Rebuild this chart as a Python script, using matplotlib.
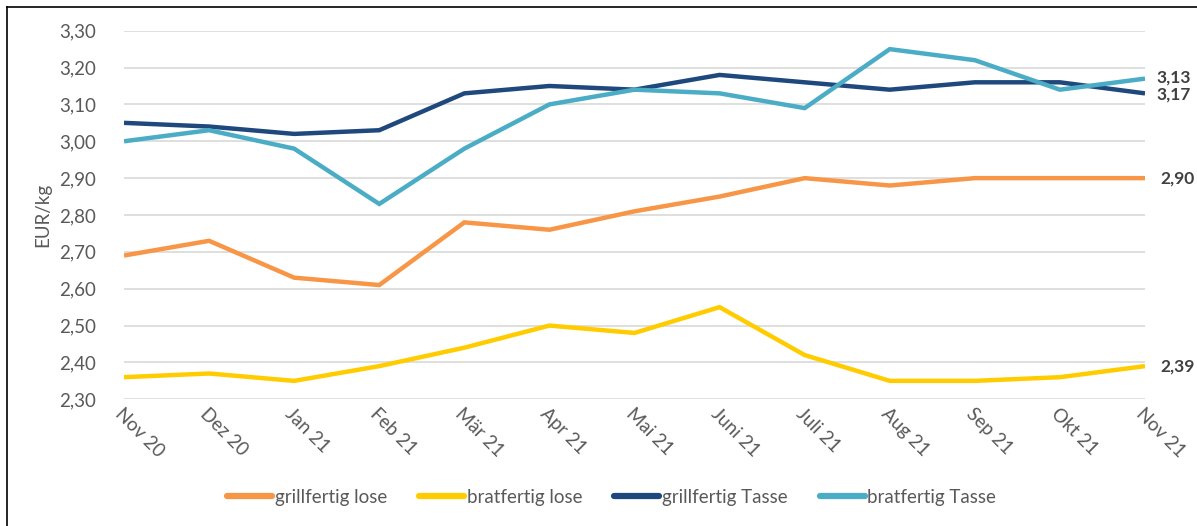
import matplotlib
matplotlib.use("Agg")
import matplotlib.pyplot as plt
from matplotlib.ticker import FuncFormatter, MultipleLocator
from matplotlib.lines import Line2D

plt.rcParams['font.family'] = ['Lato', 'DejaVu Sans']

# Data
months = ['Nov 20', 'Dez 20', 'Jan 21', 'Feb 21', 'Mär 21', 'Apr 21', 'Mai 21',
          'Juni 21', 'Juli 21', 'Aug 21', 'Sep 21', 'Okt 21', 'Nov 21']
grill_lose = [2.69, 2.73, 2.63, 2.61, 2.78, 2.76, 2.81, 2.85, 2.90, 2.88, 2.90, 2.90, 2.90]
brat_lose = [2.36, 2.37, 2.35, 2.39, 2.44, 2.50, 2.48, 2.55, 2.42, 2.35, 2.35, 2.36, 2.39]
grill_tasse = [3.05, 3.04, 3.02, 3.03, 3.13, 3.15, 3.14, 3.18, 3.16, 3.14, 3.16, 3.16, 3.13]
brat_tasse = [3.00, 3.03, 2.98, 2.83, 2.98, 3.10, 3.14, 3.13, 3.09, 3.25, 3.22, 3.14, 3.17]

names = ['grillfertig lose', 'bratfertig lose', 'grillfertig Tasse', 'bratfertig Tasse']
colors = ['#F79646', '#FFCC00', '#1F497D', '#4BACC6']
series = [grill_lose, brat_lose, grill_tasse, brat_tasse]

text_col = '#595959'
fs = 13.5

fig = plt.figure(figsize=(11.97, 5.26), dpi=100)
ax = fig.add_axes([124 / 1197, 1 - 399.3 / 526, (1145 - 124) / 1197, (399.3 - 30.7) / 526])

x = list(range(len(months)))
for vals, c in zip(series, colors):
    ax.plot(x, vals, color=c, lw=3.2, solid_capstyle='butt', solid_joinstyle='miter', zorder=3)

ax.set_xlim(0, len(months) - 1)
ax.set_ylim(2.30, 3.30)
ax.yaxis.set_major_locator(MultipleLocator(0.1))
ax.yaxis.set_major_formatter(FuncFormatter(lambda v, p: f'{v:.2f}'.replace('.', ',')))
ax.grid(axis='y', color='#D9D9D9', lw=1.2, zorder=0)
for s in ax.spines.values():
    s.set_visible(False)
ax.tick_params(axis='both', length=0, colors=text_col, labelsize=fs)
ax.tick_params(axis='y', pad=20)
ax.set_xticks(x)
ax.set_xticklabels(months, rotation=-45, ha='left', va='top', rotation_mode='anchor')
ax.tick_params(axis='x', pad=4)
ax.set_ylabel('EUR/kg', color=text_col, fontsize=fs, labelpad=6)

# end-of-line value labels (Excel placed the two top labels swapped)
last = len(months) - 1
lbl_kw = dict(fontsize=12.5, fontweight='bold', color='#404040', va='center', ha='left',
              textcoords='offset points')
ax.annotate(f'{grill_lose[-1]:.2f}'.replace('.', ','), (last, grill_lose[-1]), xytext=(11, 0), **lbl_kw)
ax.annotate(f'{brat_lose[-1]:.2f}'.replace('.', ','), (last, brat_lose[-1]), xytext=(11, 0), **lbl_kw)
ax.annotate(f'{grill_tasse[-1]:.2f}'.replace('.', ','), (last, brat_tasse[-1]), xytext=(8, 0.5), **lbl_kw)
ax.annotate(f'{brat_tasse[-1]:.2f}'.replace('.', ','), (last, grill_tasse[-1]), xytext=(8, -0.5), **lbl_kw)

handles = [Line2D([], [], color=c, lw=4.5, solid_capstyle='round') for c in colors]
leg = fig.legend(handles, names, loc='center', bbox_to_anchor=(0.511, 1 - 497 / 526), ncol=4,
                 frameon=False, fontsize=fs, handlelength=2.4, handletextpad=0.15,
                 columnspacing=1.7)
for t in leg.get_texts():
    t.set_color(text_col)

# partial outer frame (left and top) as in the reference crop
fig.add_artist(Line2D([7 / 1197, 7 / 1197], [0, 1 - 7 / 526], color='black', lw=1.2,
                      transform=fig.transFigure))
fig.add_artist(Line2D([7 / 1197, 1], [1 - 7 / 526, 1 - 7 / 526], color='black', lw=1.2,
                      transform=fig.transFigure))

fig.savefig('out.png', dpi=100)
